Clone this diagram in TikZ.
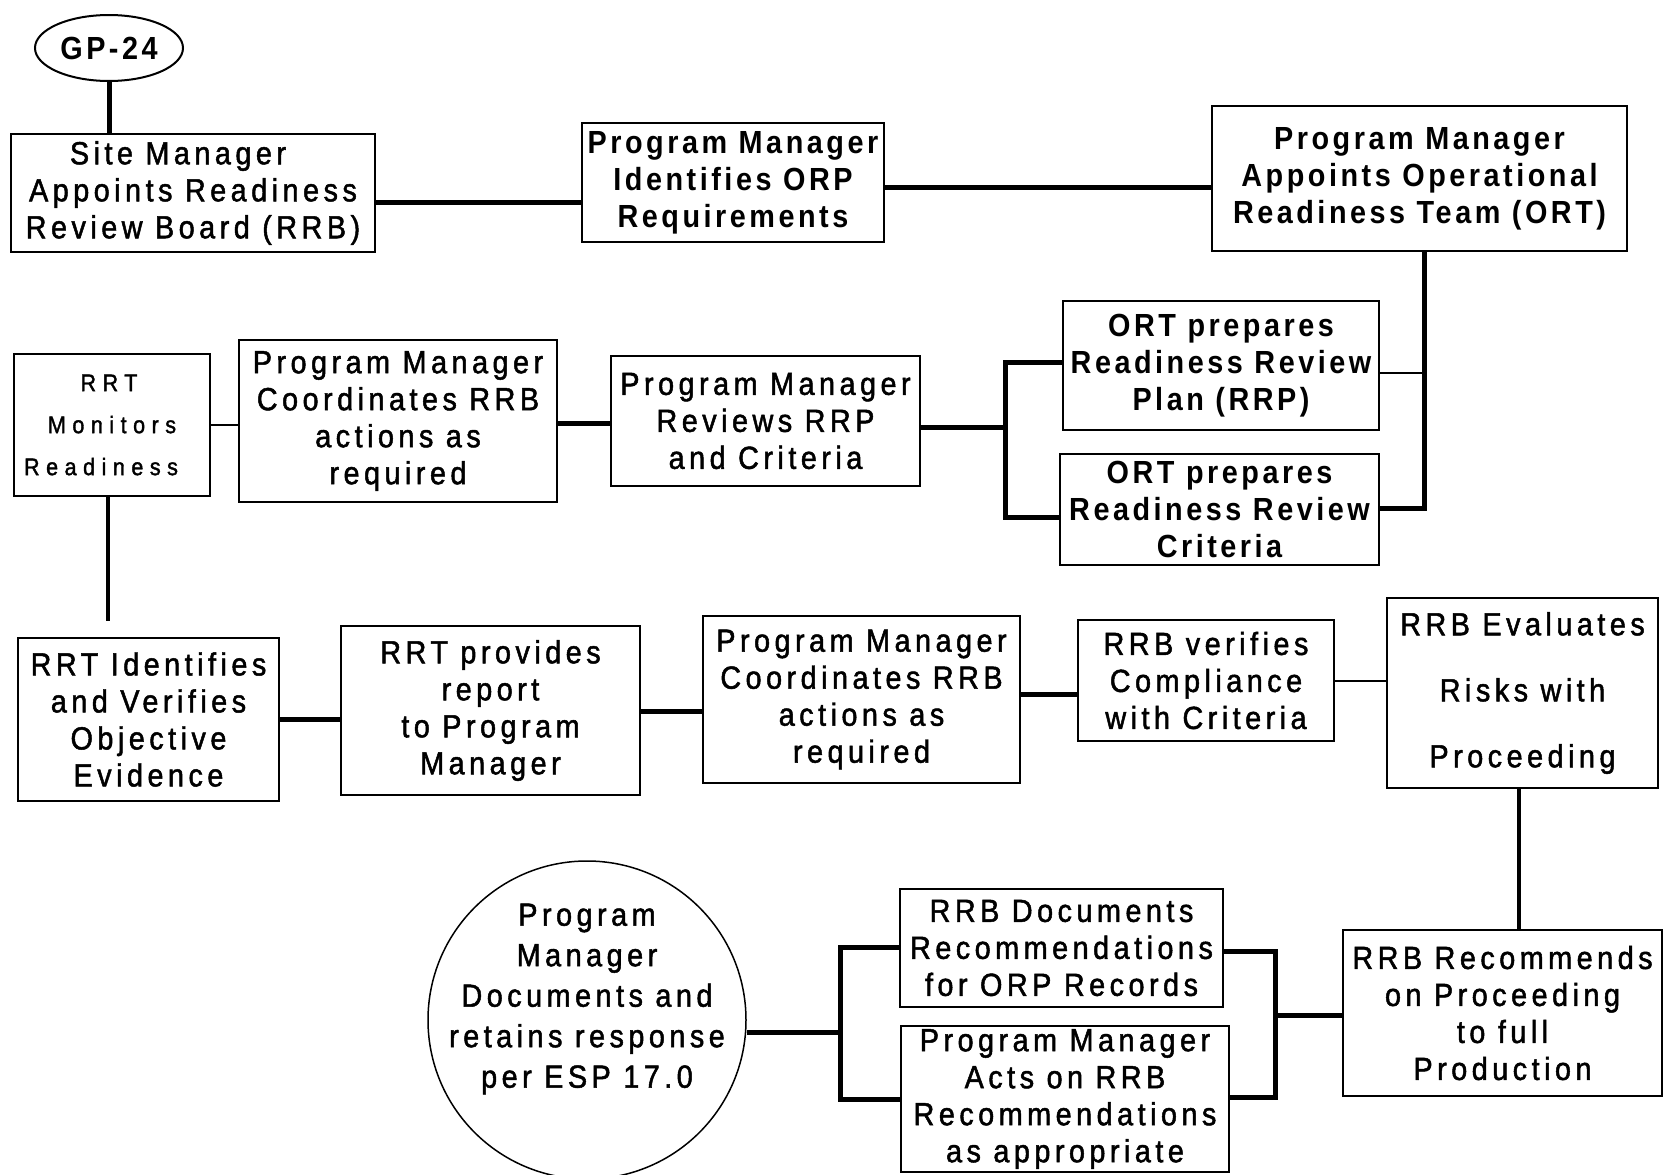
\documentclass[tikz,border=0pt]{standalone}
\usepackage{fontspec}
\setmainfont{Liberation Sans}[FakeStretch=0.9,LetterSpace=14,
  UprightFeatures={FakeBold=1.5},BoldFeatures={LetterSpace=11}]
\newfontfamily\widefont{Liberation Sans}[FakeStretch=0.9,LetterSpace=27,FakeBold=1.5]
\usetikzlibrary{calc,shapes.geometric}

\tikzset{
  box/.style={draw, line width=1.8pt, inner sep=0pt, align=center,
              font=\fontsize{32}{37}\selectfont},
  boldbox/.style={box, font=\fontsize{32}{37}\selectfont\bfseries},
  heavy/.style={line width=5pt},
  light/.style={line width=2pt},
  medium/.style={line width=3.5pt},
}

\begin{document}
\begin{tikzpicture}[x=1pt,y=-1pt]
\useasboundingbox (0,0) rectangle (1666,1175);
\fill[white] (0,0) rectangle (1666,1175);

% ---- top row
\node[draw, ellipse, line width=2pt, minimum width=148pt, minimum height=66pt,
      inner sep=0pt, font=\fontsize{32}{36}\selectfont\bfseries] (gp) at (109,48) {GP-24};
\node[box, minimum width=364pt, minimum height=118pt] (site) at (193,193)
  {Site Manager\hspace*{30pt}\\Appoints Readiness\\Review Board (RRB)};
\node[boldbox, minimum width=302pt, minimum height=119pt] (pmid) at (733,182.5)
  {Program Manager\\Identifies ORP\\Requirements};
\node[boldbox, minimum width=415pt, minimum height=145pt] (pma) at (1419.5,178.5)
  {Program Manager\\Appoints Operational\\Readiness Team (ORT)};

% ---- second row
\node[boldbox, minimum width=316pt, minimum height=129pt] (rrp) at (1221,365.5)
  {ORT prepares\\Readiness Review\\Plan (RRP)};
\node[boldbox, minimum width=319pt, minimum height=111pt] (crit) at (1219.5,509.5)
  {ORT prepares\\Readiness Review\\Criteria};
\node[box, minimum width=309pt, minimum height=130pt] (rev) at (765.5,421)
  {Program Manager\\Reviews RRP\\and Criteria};
\node[box, minimum width=318pt, minimum height=162pt] (co1) at (398,421)
  {Program Manager\\Coordinates RRB\\actions as\\required};
\node[box, minimum width=196pt, minimum height=142pt, font=\widefont\fontsize{24}{42}\selectfont] (mon) at (112,425)
  {RRT\hspace*{6pt}\\Monitors\hspace*{22pt}\\Readiness\hspace*{22pt}};

% ---- third row
\node[box, minimum width=261pt, minimum height=163pt] (ident) at (148.5,719.5)
  {RRT Identifies\\and Verifies\\Objective\\Evidence};
\node[box, minimum width=299pt, minimum height=169pt] (prov) at (490.5,710.5)
  {RRT provides\\report\\to Program\\Manager};
\node[box, minimum width=317pt, minimum height=167pt] (co2) at (861.5,699.5)
  {Program Manager\\Coordinates RRB\\actions as\\required};
\node[box, minimum width=256pt, minimum height=121pt] (ver) at (1206,680.5)
  {RRB verifies\\Compliance\\with Criteria};
\node[box, minimum width=271pt, minimum height=190pt, font=\fontsize{32}{66}\selectfont] (eval) at (1522.5,693)
  {RRB Evaluates\\Risks with\\Proceeding};

% ---- bottom row
\node[box, minimum width=319pt, minimum height=166pt] (rec) at (1502.5,1013)
  {RRB Recommends\\on Proceeding\\to full\\Production};
\node[box, minimum width=323pt, minimum height=118pt] (doc) at (1061.5,948)
  {RRB Documents\\Recommendations\\for ORP Records};
\node[box, minimum width=328pt, minimum height=146pt] (acts) at (1065,1099)
  {Program Manager\\Acts on RRB\\Recommendations\\as appropriate};
\node[draw, circle, line width=1.5pt, minimum size=318pt, inner sep=0pt] (circ) at (587,1020) {};
\node[align=center, inner sep=0pt, font=\fontsize{32}{40.5}\selectfont] (circt) at (587,999)
  {Program\\Manager\\Documents and\\retains response\\per ESP 17.0};

% ---- connectors
\draw[heavy] (gp.south) -- (gp.south |- site.north);
\draw[heavy] (site.east |- 0,202) -- (pmid.west |- 0,202);
\draw[heavy] (pmid.east |- 0,187) -- (pma.west |- 0,187);

\coordinate (ortj) at (1424,508);
\draw[heavy] (pma.south -| ortj) -- (ortj) -- (crit.east |- ortj);
\draw[light] (rrp.east |- 0,373) -- (ortj |- 0,373);

\coordinate (revj) at (1005,427);
\draw[heavy] (rev.east |- revj) -- (revj);
\draw[heavy] (rrp.west |- 0,362) -- (revj |- 0,362) -- (revj |- 0,517) -- (crit.west |- 0,517);

\draw[heavy] (co1.east |- 0,423) -- (rev.west |- 0,423);
\draw[light] (mon.east |- 0,425) -- (co1.west |- 0,425);
\draw[medium, shorten >=16pt] (mon.south -| 108,0) -- (ident.north -| 108,0);

\draw[heavy] (ident.east |- 0,719) -- (prov.west |- 0,719);
\draw[heavy] (prov.east |- 0,711) -- (co2.west |- 0,711);
\draw[heavy] (co2.east |- 0,694) -- (ver.west |- 0,694);
\draw[light] (ver.east |- 0,681) -- (eval.west |- 0,681);
\draw[medium] (eval.south -| 1519,0) -- (rec.north -| 1519,0);

\coordinate (recj) at (1275,1015);
\draw[heavy] (rec.west |- recj) -- (recj);
\draw[heavy] (doc.east |- 0,951) -- (recj |- 0,951) -- (recj |- 0,1097) -- (acts.east |- 0,1097);

\coordinate (circj) at (840,1032);
\draw[heavy] (circ.east |- circj) -- (circj);
\draw[heavy] (doc.west |- 0,947) -- (circj |- 0,947) -- (circj |- 0,1099) -- (acts.west |- 0,1099);
\end{tikzpicture}
\end{document}
